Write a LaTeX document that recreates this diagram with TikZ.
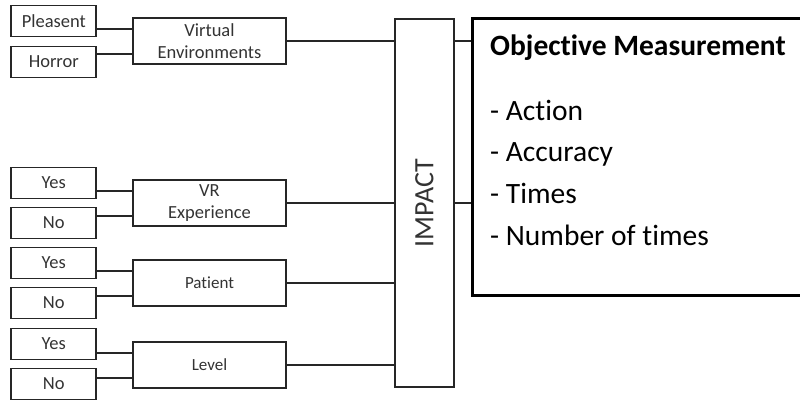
\documentclass[tikz,border=0pt]{standalone}
\usepackage{fontspec}
\setmainfont{Carlito}[Ligatures=NoCommon]
\usetikzlibrary{positioning}
\tikzset{
    opt/.style={rectangle, draw=black!85, line width=1.7pt, minimum width=85pt, minimum height=31pt, inner sep=0pt, text=black!80, font=\fontsize{18.5}{22}\selectfont},
    cat/.style={rectangle, draw=black!85, line width=1.7pt, minimum width=153pt, minimum height=46pt, inner sep=0pt, align=center, text=black!80, font=\fontsize{18.5}{22}\selectfont},
    impact/.style={rectangle, draw=black!85, line width=1.7pt, minimum width=59pt, minimum height=368pt, inner sep=0pt, text=black!80, font=\fontsize{28}{32}\selectfont},
    meas/.style={rectangle, draw=black, line width=2.6pt, minimum width=345pt, minimum height=277pt, inner sep=0pt},
    item/.style={anchor=base west, inner sep=0pt, font=\fontsize{29.5}{34}\selectfont},
    link/.style={draw=black!85, line width=1.7pt},
}

\begin{document}
\begin{tikzpicture}[x=1pt, y=-1pt]
        \path[use as bounding box, clip] (0,0) rectangle (800,400);
        % category boxes
        \node [cat] (ve) at (209.5,41) {Virtual\\Environments};
        \node [cat] (vr) at (209.5,203) {VR\\Experience};
        \node [cat, font=\fontsize{17}{20}\selectfont] (pat) at (209.5,283) {Patient};
        \node [cat, font=\fontsize{17}{20}\selectfont] (lvl) at (209.5,365) {Level};
        % option boxes
        \node [opt] (pl) [left=35pt of ve, yshift=20pt] {Pleasent};
        \node [opt] (ho) [left=35pt of ve, yshift=-21pt] {Horror};
        \node [opt] (vryes) [left=35pt of vr, yshift=20pt] {Yes};
        \node [opt] (vrno) [left=35pt of vr, yshift=-20pt] {No};
        \node [opt] (patyes) [left=35pt of pat, yshift=20pt] {Yes};
        \node [opt] (patno) [left=35pt of pat, yshift=-20pt] {No};
        \node [opt] (lvlyes) [left=35pt of lvl, yshift=21pt] {Yes};
        \node [opt] (lvlno) [left=35pt of lvl, yshift=-19pt] {No};
        % impact and measurement
        \node [impact] (imp) at (424.5,203) {\rotatebox{90}{IMPACT}};
        \node [meas, anchor=north west] (box) at (471,17) {};
        \node [item, font=\fontsize{29.5}{34}\selectfont\bfseries] (title) at (490,55) {Objective Measurement};
        \foreach \t [count=\i] in {Action, Accuracy, Times, Number of times}
            \node [item] (m\i) at (490,{120+41.7*(\i-1)}) {- \t};
        % option links
        \foreach \a/\b in {pl/ve, vryes/vr, patyes/pat, lvlyes/lvl}
            \draw [link] ([yshift=12pt]\b.west) -- ([yshift=12pt]\b.west -| \a.east);
        \foreach \a/\b in {ho/ve, vrno/vr, patno/pat, lvlno/lvl}
            \draw [link] ([yshift=-13pt]\b.west) -- ([yshift=-13pt]\b.west -| \a.east);
        % category links
        \foreach \c in {ve, vr, pat, lvl}
            \draw [link] (\c) -- (\c -| imp.west);
        \draw [link] (imp.east |- ve) -- (box.west |- ve);
        \draw [link] (imp.east |- vr) -- (box.west |- vr);
    \end{tikzpicture}
\end{document}
